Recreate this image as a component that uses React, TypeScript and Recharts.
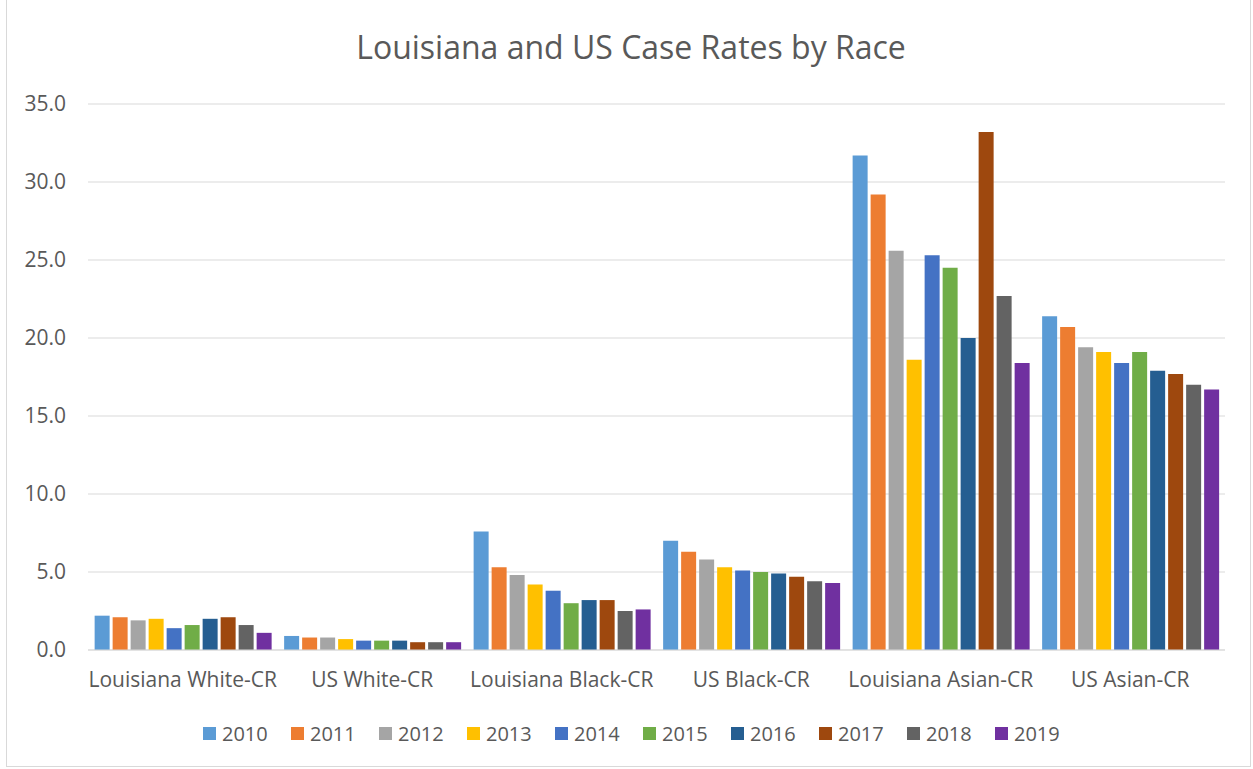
import { Bar, BarChart, CartesianGrid, XAxis, YAxis } from 'recharts'

const categories = [
  'Louisiana White-CR',
  'US White-CR',
  'Louisiana Black-CR',
  'US Black-CR',
  'Louisiana Asian-CR',
  'US Asian-CR',
]

const years = ['2010', '2011', '2012', '2013', '2014', '2015', '2016', '2017', '2018', '2019']

const colors = ['#5B9BD5', '#ED7D31', '#A5A5A5', '#FFC000', '#4472C4', '#70AD47', '#255E91', '#9E480E', '#636363', '#7030A0']

// one array per category, values 2010..2019
const laWhite = [2.2, 2.1, 1.9, 2.0, 1.4, 1.6, 2.0, 2.1, 1.6, 1.1]
const usWhite = [0.9, 0.8, 0.8, 0.7, 0.6, 0.6, 0.6, 0.5, 0.5, 0.5]
const laBlack = [7.6, 5.3, 4.8, 4.2, 3.8, 3.0, 3.2, 3.2, 2.5, 2.6]
const usBlack = [7.0, 6.3, 5.8, 5.3, 5.1, 5.0, 4.9, 4.7, 4.4, 4.3]
const laAsian = [31.7, 29.2, 25.6, 18.6, 25.3, 24.5, 20.0, 33.2, 22.7, 18.4]
const usAsian = [21.4, 20.7, 19.4, 19.1, 18.4, 19.1, 17.9, 17.7, 17.0, 16.7]

const yTicks = [0, 5, 10, 15, 20, 25, 30, 35]

const rows = [laWhite, usWhite, laBlack, usBlack, laAsian, usAsian]
const data = categories.map((name, i) => {
  const row: Record<string, string | number> = { name }
  years.forEach((y, j) => (row[y] = rows[i][j]))
  return row
})

const font = '"Open Sans", "Noto Sans", sans-serif'
const textColor = '#595959'

export default function App() {
  return (
    <div
      style={{
        position: 'absolute',
        left: 0,
        top: 0,
        width: 1253,
        height: 769,
        background: '#fff',
        fontFamily: font,
      }}
    >
      <div
        style={{
          position: 'absolute',
          left: 6,
          top: -1,
          width: 1245,
          height: 768,
          boxSizing: 'border-box',
          border: '1px solid #d9d9d9',
        }}
      />
      <div
        style={{
          position: 'absolute',
          top: 25,
          left: 0,
          width: 1262,
          textAlign: 'center',
          fontSize: 32,
          color: textColor,
        }}
      >
        Louisiana and US Case Rates by Race
      </div>
      <BarChart
        width={1253}
        height={769}
        data={data}
        margin={{ top: 104, right: 28, bottom: 89, left: 0 }}
        barCategoryGap="3.5%"
        barGap={3}
        style={{ position: 'absolute', left: 0, top: 0 }}
      >
        <CartesianGrid vertical={false} stroke="#d9d9d9" />
        <XAxis
          dataKey="name"
          height={30}
          tickLine={false}
          axisLine={{ stroke: '#d9d9d9' }}
          tickSize={0}
          tickMargin={22}
          interval={0}
          tick={{ fontSize: 21, fill: textColor, fontFamily: font }}
        />
        <YAxis
          width={88}
          domain={[0, 35]}
          ticks={yTicks}
          tickFormatter={(v: number) => v.toFixed(1)}
          axisLine={false}
          tickLine={false}
          tickSize={0}
          tickMargin={22}
          tick={{ fontSize: 21, fill: textColor, fontFamily: font }}
        />
        {years.map((y, i) => (
          <Bar key={y} dataKey={y} fill={colors[i]} isAnimationActive={false} />
        ))}
      </BarChart>
      <div
        style={{
          position: 'absolute',
          top: 720,
          left: 203,
          display: 'flex',
          fontSize: 20,
          color: textColor,
        }}
      >
        {years.map((y, i) => (
          <div key={y} style={{ display: 'flex', alignItems: 'center', width: 88 }}>
            <span style={{ width: 13, height: 13, background: colors[i], display: 'inline-block', marginRight: 6 }} />
            <span>{y}</span>
          </div>
        ))}
      </div>
    </div>
  )
}
